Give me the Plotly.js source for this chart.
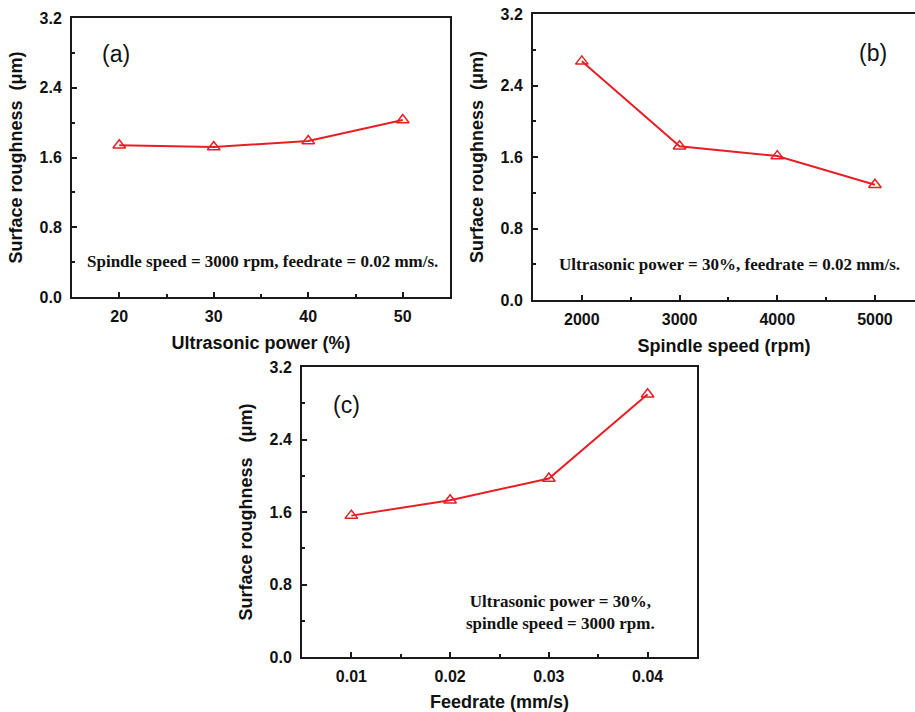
<!DOCTYPE html>
<html>
<head>
<meta charset="utf-8">
<script src="https://cdn.plot.ly/plotly-3.0.1.min.js"></script>
<style>html,body{margin:0;padding:0;background:#fff;}#chart{width:915px;height:712px;}</style>
</head>
<body>
<div id="chart"></div>
<script>
// Panel (a): roughness vs ultrasonic power
const powerPct = [20, 30, 40, 50];
const roughnessA = [1.74, 1.72, 1.79, 2.03];
// Panel (b): roughness vs spindle speed
const spindleRpm = [2000, 3000, 4000, 5000];
const roughnessB = [2.67, 1.72, 1.61, 1.29];
// Panel (c): roughness vs feedrate
const feedrate = [0.01, 0.02, 0.03, 0.04];
const roughnessC = [1.56, 1.73, 1.97, 2.90];

const yTicks = [0.0, 0.8, 1.6, 2.4, 3.2];
const yTickText = ['0.0', '0.8', '1.6', '2.4', '3.2'];
const xTicksA = [20, 30, 40, 50];
const xTicksB = [2000, 3000, 4000, 5000];
const xTicksC = [0.01, 0.02, 0.03, 0.04];
const xTickTextC = ['0.01', '0.02', '0.03', '0.04'];

const RED = 'rgb(232,30,36)';
const AX = '#1a1a1a';
const tickFont = {family: 'Liberation Sans, Arial, sans-serif', size: 16, color: '#111', weight: 'bold'};
const titleFont = {family: 'Liberation Sans, Arial, sans-serif', size: 18, color: '#111', weight: 'bold'};
const noteFont = {family: 'Liberation Serif, Times New Roman, serif', size: 17, color: '#111', weight: 'bold'};

function trace(x, y, xa, ya) {
  return {x: x, y: y, xaxis: xa, yaxis: ya, type: 'scatter', mode: 'lines+markers',
    line: {color: RED, width: 2},
    marker: {symbol: 'triangle-up-open', size: 11, color: RED, line: {width: 1.5, color: RED}},
    showlegend: false, cliponaxis: false};
}

function xax(domain, range, tickvals, ticktext, minorDtick, title, anchor, standoff) {
  return {domain: domain, range: range, anchor: anchor, tickmode: 'array', tickvals: tickvals,
    ticktext: ticktext, ticks: 'inside', ticklen: 5, tickwidth: 2, tickcolor: AX,
    minor: {dtick: minorDtick, tick0: range[0], ticks: 'inside', ticklen: 3, tickwidth: 2, tickcolor: AX},
    showline: true, linecolor: AX, linewidth: 2, mirror: true, showgrid: false, zeroline: false,
    tickfont: tickFont, ticklabelstandoff: 4,
    title: {text: title, font: titleFont, standoff: standoff}, fixedrange: true};
}
function yax(domain, title, anchor, mirror, standoff) {
  return {domain: domain, range: [0, 3.2], anchor: anchor, tickmode: 'array', tickvals: yTicks,
    ticktext: yTickText, ticks: 'inside', ticklen: 5, tickwidth: 2, tickcolor: AX,
    minor: {dtick: 0.4, tick0: 0, ticks: 'inside', ticklen: 3, tickwidth: 2, tickcolor: AX},
    showline: true, linecolor: AX, linewidth: 2, mirror: mirror, showgrid: false, zeroline: false,
    tickfont: tickFont, ticklabelstandoff: 5,
    title: {text: title, font: titleFont, standoff: standoff}, fixedrange: true};
}

const W = 915, H = 712;
const px = v => v / W;
const py = v => 1 - v / H;

const data = [
  trace(powerPct, roughnessA, 'x', 'y'),
  trace(spindleRpm, roughnessB, 'x2', 'y2'),
  trace(feedrate, roughnessC, 'x3', 'y3')
];

function note(text, x, y, font) {
  return {text: text, xref: 'paper', yref: 'paper', x: px(x), y: py(y), xanchor: 'center',
    yanchor: 'middle', showarrow: false, font: font, align: 'center'};
}
const labelFont = {family: 'Liberation Sans, Arial, sans-serif', size: 23, color: '#111'};

const layout = {
  width: W, height: H,
  margin: {l: 0, r: 0, t: 0, b: 0},
  paper_bgcolor: '#fff', plot_bgcolor: '#fff',
  xaxis: xax([px(72), px(450)], [15, 55], xTicksA, ['20', '30', '40', '50'], 5, 'Ultrasonic power (%)', 'y', 12),
  yaxis: yax([py(297), py(18)], 'Surface roughness  (μm)', 'x', true, 12),
  xaxis2: xax([px(533), 1], [1500, 5410], xTicksB, ['2000', '3000', '4000', '5000'], 500, 'Spindle speed (rpm)', 'y2', 12),
  yaxis2: yax([py(300), py(14)], 'Surface roughness  (μm)', 'x2', false, 12),
  xaxis3: xax([px(302), px(697)], [0.005, 0.045], xTicksC, xTickTextC, 0.005, 'Feedrate (mm/s)', 'y3', 12),
  yaxis3: yax([py(657), py(367)], 'Surface roughness   (μm)', 'x3', true, 12),
  annotations: [
    note('(a)', 116, 54, labelFont),
    note('(b)', 873, 53, labelFont),
    note('(c)', 346, 405, labelFont),
    note('Spindle speed = 3000 rpm, feedrate = 0.02 mm/s.', 262, 261, noteFont),
    note('Ultrasonic power = 30%, feedrate = 0.02 mm/s.', 729, 265, noteFont),
    note('Ultrasonic power = 30%,<br>spindle speed = 3000 rpm.', 560, 612, noteFont)
  ]
};

Plotly.newPlot('chart', data, layout, {displayModeBar: false, staticPlot: true});
</script>
</body>
</html>
